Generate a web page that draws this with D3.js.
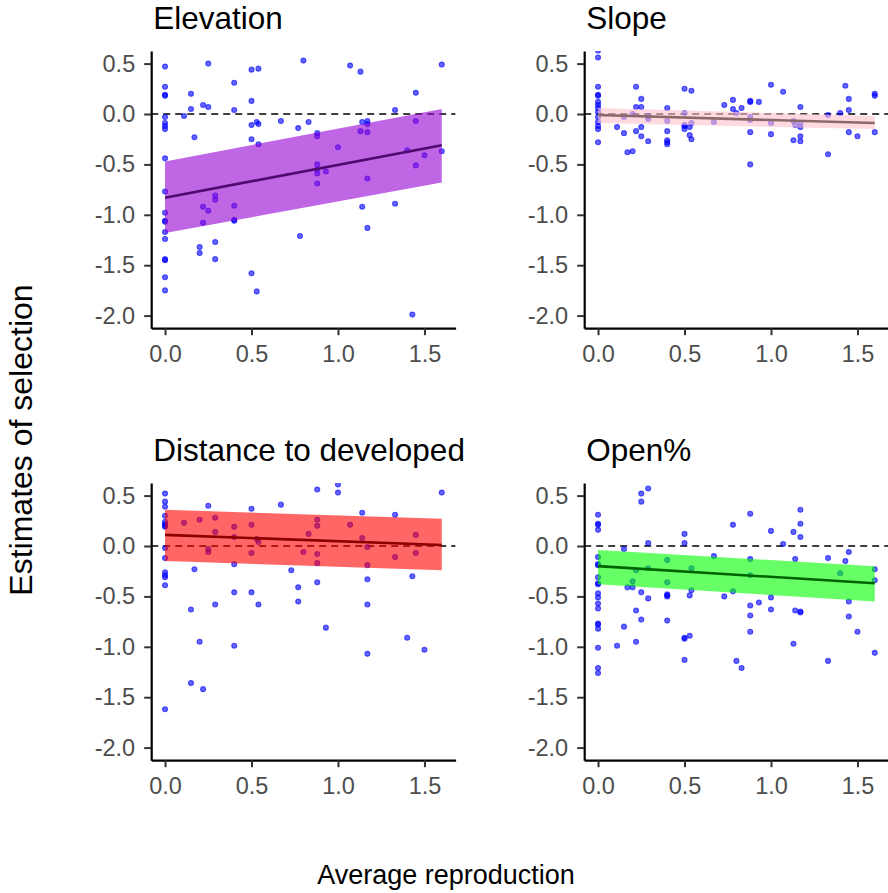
<!DOCTYPE html>
<html>
<head>
<meta charset="utf-8">
<script src="https://cdn.jsdelivr.net/npm/d3@7"></script>
<style>
  body { margin: 0; background: #fff; }
  svg { display: block; font-family: "Liberation Sans", Arial, sans-serif; }
</style>
</head>
<body>
<div id="chart"></div>
<script>
'use strict';

// ---- data ----
const xTicks = [0, 0.5, 1.0, 1.5]
const yTicks = [0.5, 0, -0.5, -1.0, -1.5, -2.0]
const fitX = [0, 1.6]

const elevationPts = [[0,0.47],[0.25,0.50],[0.5,0.44],[0.54,0.45],[0,0.27],[0,0.18],[0,0.19],[0.40,0.31],[0.15,0.20],[0.5,0.13],[0.15,0.05],[0.22,0.09],[0.25,0.07],[0.40,0.04],[0,-0.03],[0.11,-0.02],[0,-0.09],[0,-0.12],[0,-0.15],[0.5,-0.11],[0.53,-0.08],[0.54,-0.10],[0.67,-0.07],[0.77,-0.14],[0.17,-0.23],[0.5,-0.25],[0.54,-0.30],[0,-0.44],[0,-0.77],[0.29,-0.81],[0.29,-0.85],[0.22,-0.92],[0.25,-0.96],[0.40,-0.91],[0.40,-1.05],[0.40,-1.06],[0,-0.98],[0,-1.06],[0,-1.07],[0.22,-1.08],[0,-1.17],[0,-1.24],[0.29,-1.27],[0.20,-1.32],[0.20,-1.38],[0,-1.44],[0,-1.45],[0.29,-1.44],[0,-1.62],[0.5,-1.58],[0,-1.75],[0.53,-1.76],
  [0.80,0.53],[1.07,0.48],[1.13,0.42],[1.6,0.49],[1.45,0.21],[1.33,0.04],[0.83,-0.08],[0.88,-0.19],[0.88,-0.22],[1.14,-0.08],[1.17,-0.07],[1.17,-0.10],[1.13,-0.17],[1.17,-0.18],[1.45,-0.07],[1.0,-0.33],[1.40,-0.36],[1.6,-0.37],[1.50,-0.41],[1.45,-0.51],[0.88,-0.50],[0.88,-0.55],[0.88,-0.59],[0.93,-0.57],[0.88,-0.69],[1.17,-0.64],[1.14,-0.92],[1.33,-0.89],[1.17,-1.13],[0.78,-1.21],[1.43,-1.99]]
const elevationFit = [-0.83, -0.31]
const elevationLo = [-1.18, -0.68]
const elevationHi = [-0.47, 0.05]

const slopePts = [[0,0.63],[0,0.56],[0,0.27],[0,0.18],[0,0.19],[0,0.12],[0,0.09],[0,0.06],[0,0.02],[0,-0.03],[0,-0.08],[0,-0.12],[0,-0.15],[0,-0.28],[0.22,0.27],[0.25,0.15],[0.22,0.07],[0.25,0.07],[0.11,-0.13],[0.15,-0.03],[0.15,-0.19],[0.20,0.0],[0.22,-0.17],[0.25,-0.13],[0.25,-0.22],[0.29,-0.02],[0.29,-0.05],[0.29,-0.27],[0.17,-0.38],[0.20,-0.37],[0.40,0.06],[0.40,-0.07],[0.40,-0.17],[0.40,-0.26],[0.40,-0.28],[0.40,-0.30],[0.5,0.25],[0.54,0.23],[0.5,0.01],[0.5,-0.11],[0.5,-0.15],[0.5,-0.12],[0.53,-0.13],[0.54,-0.09],[0.53,-0.21],[0.54,-0.25],[0.67,-0.08],[0.73,0.09],[0.78,0.14],[0.78,0.05],
  [0.80,0.01],[0.83,0.06],[0.88,0.12],[0.88,0.13],[0.93,0.12],[0.88,-0.03],[0.88,-0.06],[0.88,-0.18],[0.88,-0.50],[1.0,0.29],[1.07,0.22],[1.0,-0.09],[1.0,-0.20],[1.17,0.07],[1.13,-0.07],[1.14,-0.11],[1.17,-0.09],[1.17,-0.13],[1.17,-0.22],[1.13,-0.26],[1.17,-0.27],[1.33,-0.01],[1.33,-0.40],[1.40,0.01],[1.43,0.28],[1.45,0.15],[1.45,0.04],[1.45,-0.18],[1.50,-0.22],[1.6,0.20],[1.6,0.18],[1.6,-0.18]]
const slopeFit = [-0.01, -0.09]
const slopeLo = [-0.09, -0.15]
const slopeHi = [0.06, -0.02]

const distancePts = [[0,0.52],[0,0.44],[0,0.39],[0,0.30],[0,0.24],[0,0.215],[0,0.19],[0,0.20],[0,-0.02],[0,-0.12],[0,-0.26],[0,-0.29],[0,-0.31],[0,-0.39],[0,-1.62],[0.25,0.40],[0.11,0.23],[0.20,0.26],[0.29,0.28],[0.29,0.14],[0.25,-0.03],[0.25,-0.06],[0.17,-0.23],[0.40,0.19],[0.40,0.09],[0.40,-0.18],[0.5,0.37],[0.5,0.21],[0.53,0.07],[0.54,0.04],[0.5,-0.07],[0.67,0.41],[0.73,-0.24],[0.40,-0.46],[0.5,-0.46],[0.29,-0.58],[0.54,-0.58],[0.15,-0.63],[0.20,-0.95],[0.40,-0.99],[0.15,-1.36],[0.22,-1.42],[0.77,-0.41],[0.77,-0.55],
  [0.88,0.56],[1.0,0.61],[1.0,0.53],[1.6,0.53],[1.14,0.33],[1.33,0.31],[0.88,0.26],[0.88,0.20],[1.07,0.21],[0.83,0.12],[1.14,0.08],[1.45,0.11],[1.17,-0.01],[0.80,-0.06],[0.88,-0.08],[0.88,-0.17],[1.17,-0.19],[1.33,-0.11],[1.45,-0.07],[0.88,-0.36],[1.17,-0.33],[1.43,-0.30],[1.17,-0.58],[0.93,-0.81],[1.40,-0.91],[1.50,-1.03],[1.17,-1.07]]
const distanceFit = [0.11, 0.01]
const distanceLo = [-0.15, -0.24]
const distanceHi = [0.36, 0.27]

const openPts = [[0,0.31],[0,0.21],[0,0.22],[0,0.16],[0,-0.11],[0,-0.18],[0,-0.19],[0,-0.31],[0,-0.37],[0,-0.38],[0,-0.47],[0,-0.51],[0,-0.57],[0,-0.62],[0,-0.77],[0,-0.78],[0,-0.82],[0,-1.01],[0,-1.21],[0,-1.26],[0.25,0.52],[0.29,0.57],[0.25,0.44],[0.29,0.03],[0.15,-0.03],[0.22,-0.24],[0.20,-0.35],[0.17,-0.41],[0.20,-0.41],[0.29,-0.22],[0.25,-0.46],[0.29,-0.52],[0.22,-0.64],[0.25,-0.73],[0.15,-0.80],[0.22,-0.95],[0.11,-0.99],[0.40,-0.14],[0.40,-0.36],[0.40,-0.48],[0.40,-0.49],[0.40,-0.50],[0.40,-0.74],[0.5,0.12],[0.5,0.03],[0.54,-0.22],[0.54,-0.44],[0.53,-0.49],[0.5,-0.91],[0.5,-0.92],[0.53,-0.89],[0.5,-1.13],[0.67,-0.10],[0.73,-0.50],[0.78,0.21],[0.78,-0.45],
  [0.88,0.32],[1.0,0.15],[1.17,0.36],[1.17,0.22],[1.13,0.14],[1.17,0.09],[1.07,0.02],[0.88,-0.13],[0.88,-0.29],[1.14,-0.13],[1.33,-0.12],[1.43,-0.15],[1.45,-0.06],[1.40,-0.27],[1.6,-0.23],[1.6,-0.34],[0.88,-0.59],[0.93,-0.56],[1.0,-0.51],[1.0,-0.63],[0.88,-0.69],[1.14,-0.64],[1.17,-0.65],[1.17,-0.66],[1.45,-0.55],[1.45,-0.70],[0.88,-0.85],[1.50,-0.85],[1.13,-0.97],[0.80,-1.14],[0.83,-1.21],[1.33,-1.14],[1.6,-1.06]]
const openFit = [-0.20, -0.37]
const openLo = [-0.38, -0.55]
const openHi = [-0.04, -0.20]

// ---- layout ----
const width = 888, height = 893
const colX = [151.2, 584.2]      // left edge of each panel
const rowY = [51, 483]           // top edge of each panel
const plotW = 304.4, plotH = 277.2

const panels = [
    { title: "Elevation", pts: elevationPts, fit: elevationFit, lo: elevationLo, hi: elevationHi, ribbon: "#9400d3", line: "#4e0a6e", col: 0, row: 0 },
    { title: "Slope", pts: slopePts, fit: slopeFit, lo: slopeLo, hi: slopeHi, ribbon: "#ffc0cb", line: "#8b6969", col: 1, row: 0 },
    { title: "Distance to developed", pts: distancePts, fit: distanceFit, lo: distanceLo, hi: distanceHi, ribbon: "#ff0000", line: "#8b0000", col: 0, row: 1 },
    { title: "Open%", pts: openPts, fit: openFit, lo: openLo, hi: openHi, ribbon: "#00ff00", line: "#006400", col: 1, row: 1 }
]

const svg = d3.select("#chart").append("svg")
    .attr("width", width)
    .attr("height", height)

svg.append("rect").attr("width", width).attr("height", height).attr("fill", "#fff")

const fmt = d => d.toFixed(1)

panels.forEach((p, i) => {
    const x0 = colX[p.col], y0 = rowY[p.row]
    const x = d3.scaleLinear().domain([-0.08, 1.68]).range([x0, x0 + plotW])
    const y = d3.scaleLinear().domain([-2.125, 0.625]).range([y0 + plotH, y0])

    // clip everything in the panel like ggplot does
    svg.append("clipPath").attr("id", "clip" + i)
        .append("rect")
        .attr("x", x0).attr("y", y0)
        .attr("width", plotW).attr("height", plotH)

    const g = svg.append("g").attr("clip-path", `url(#clip${i})`)

    // zero reference
    g.append("line")
        .attr("x1", x0).attr("x2", x0 + plotW)
        .attr("y1", y(0)).attr("y2", y(0))
        .attr("stroke", "#000")
        .attr("stroke-width", 1.6)
        .attr("stroke-dasharray", "7,5")

    // points
    g.append("g")
        .selectAll("circle")
        .data(p.pts)
        .enter().append("circle")
        .attr("cx", d => x(d[0]))
        .attr("cy", d => y(d[1]))
        .attr("r", 2.5)
        .attr("fill", "#0000ff")
        .attr("fill-opacity", 0.6)
        .attr("stroke", "#0000ff")
        .attr("stroke-opacity", 0.6)
        .attr("stroke-width", 1.1)

    // confidence ribbon
    const band = fitX.map((v, k) => ({ x: v, lo: p.lo[k], hi: p.hi[k] }))
    g.append("path")
        .datum(band)
        .attr("d", d3.area().x(d => x(d.x)).y0(d => y(d.lo)).y1(d => y(d.hi)))
        .attr("fill", p.ribbon)
        .attr("fill-opacity", 0.6)

    // fitted line
    g.append("path")
        .datum(fitX.map((v, k) => [v, p.fit[k]]))
        .attr("d", d3.line().x(d => x(d[0])).y(d => y(d[1])))
        .attr("fill", "none")
        .attr("stroke", p.line)
        .attr("stroke-width", 2.6)

    // axes
    const yAxis = svg.append("g")
        .attr("transform", `translate(${x0},0)`)
        .call(d3.axisLeft(y).tickValues(yTicks).tickFormat(fmt).tickSize(7).tickSizeOuter(0).tickPadding(9))
    const xAxis = svg.append("g")
        .attr("transform", `translate(0,${y0 + plotH})`)
        .call(d3.axisBottom(x).tickValues(xTicks).tickFormat(fmt).tickSize(7).tickSizeOuter(0).tickPadding(10))

    ;[yAxis, xAxis].forEach(ax => {
        ax.select(".domain").attr("stroke", "#000").attr("stroke-width", 2.2)
        ax.selectAll(".tick line").attr("stroke", "#333").attr("stroke-width", 2)
        ax.selectAll(".tick text")
            .attr("fill", "#4d4d4d")
            .style("font-size", "23.5px")
            .style("font-family", "'Liberation Sans', Arial, sans-serif")
    })

    // panel title
    svg.append("text")
        .attr("x", x0 + 2)
        .attr("y", y0 - 22)
        .attr("fill", "#000")
        .style("font-size", "31.5px")
        .text(p.title)
})

// shared axis titles
svg.append("text")
    .attr("transform", `translate(32,440) rotate(-90)`)
    .attr("text-anchor", "middle")
    .style("font-size", "32px")
    .text("Estimates of selection")

svg.append("text")
    .attr("x", 446)
    .attr("y", 884)
    .attr("text-anchor", "middle")
    .style("font-size", "27px")
    .text("Average reproduction")
</script>
</body>
</html>
